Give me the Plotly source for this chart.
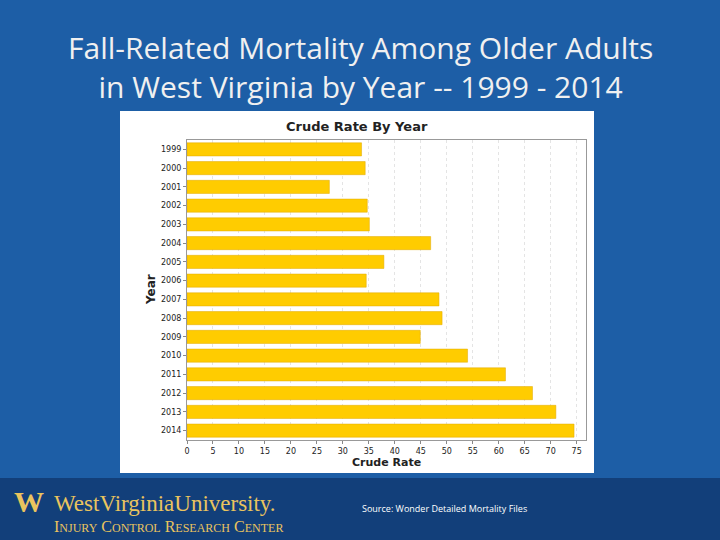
import plotly.graph_objects as go

years = [str(y) for y in range(1999, 2015)]
crude_rate = [33.6, 34.3, 27.4, 34.7, 35.1, 46.9, 37.9, 34.5,
              48.5, 49.1, 44.9, 54.0, 61.3, 66.5, 71.0, 74.5]
x_ticks = list(range(0, 80, 5))

W, H = 399, 300  # plot area size in px


def px(x):
    return (x - 187) / W


def py(y):
    return (440 - y) / H


fig = go.Figure(go.Bar(
    x=crude_rate, y=years, orientation="h",
    marker=dict(color="#FFCC00", line=dict(color="#E0A800", width=0.5)),
    width=0.7,
))

fig.update_layout(
    width=720, height=540,
    margin=dict(l=187, r=134, t=140, b=100),
    paper_bgcolor="#1d5ea6",
    plot_bgcolor="white",
    showlegend=False,
    font=dict(family="DejaVu Sans", color="#222"),
    xaxis=dict(range=[0, 76.8], tickvals=x_ticks, tickfont=dict(size=8),
               showgrid=True, gridcolor="#e4e4e4", griddash="dot",
               ticks="outside", ticklen=3, tickcolor="#888",
               showline=True, linecolor="#999", mirror=True, zeroline=False),
    yaxis=dict(autorange="reversed", tickfont=dict(size=8), showgrid=False,
               ticks="outside", ticklen=3, tickcolor="#888",
               showline=True, linecolor="#999", mirror=True),
    shapes=[
        dict(type="rect", xref="paper", yref="paper", layer="below",
             x0=px(120), x1=px(594), y0=py(473), y1=py(111),
             fillcolor="white", line=dict(width=0)),
        dict(type="rect", xref="paper", yref="paper", layer="below",
             x0=px(0), x1=px(720), y0=py(540), y1=py(478),
             fillcolor="#123f7a", line=dict(width=0)),
    ],
    annotations=[
        dict(text="Fall-Related Mortality Among Older Adults<br>in West Virginia by Year -- 1999 - 2014",
             xref="paper", yref="paper", x=px(360), y=py(67), yanchor="middle",
             showarrow=False, font=dict(family="Open Sans", size=30, color="#f0f0f0"),
             align="center"),
        dict(text="<b>Crude Rate By Year</b>", xref="paper", yref="paper",
             x=px(357), y=py(126), yanchor="middle", showarrow=False,
             font=dict(size=13, color="#222")),
        dict(text="<b>Crude Rate</b>", xref="paper", yref="paper",
             x=px(386), y=py(462), yanchor="middle", showarrow=False,
             font=dict(size=11, color="#222")),
        dict(text="<b>Year</b>", xref="paper", yref="paper", textangle=-90,
             x=px(142), y=py(290), yanchor="middle", showarrow=False,
             font=dict(size=12, color="#222")),
        dict(text="Source: Wonder Detailed Mortality Files", xref="paper", yref="paper",
             x=px(360), y=py(508), xanchor="left", yanchor="middle", showarrow=False,
             font=dict(family="Open Sans", size=9, color="white")),
        dict(text="<b>W</b>", xref="paper", yref="paper",
             x=px(12), y=py(502), xanchor="left", yanchor="middle", showarrow=False,
             font=dict(family="Liberation Serif", size=30, color="#EAC45E")),
        dict(text="WestVirginiaUniversity.", xref="paper", yref="paper",
             x=px(52), y=py(503), xanchor="left", yanchor="middle", showarrow=False,
             font=dict(family="Liberation Serif", size=23, color="#EAC45E")),
        dict(text="I<span style='font-size:12px'>NJURY</span> C<span style='font-size:12px'>ONTROL</span> R<span style='font-size:12px'>ESEARCH</span> C<span style='font-size:12px'>ENTER</span>",
             xref="paper", yref="paper",
             x=px(52), y=py(526), xanchor="left", yanchor="middle", showarrow=False,
             font=dict(family="Liberation Serif", size=16, color="#EAC45E")),
    ],
)

fig.write_html("out.html", config={"displayModeBar": False},
               post_script="document.body.style.margin='0';")
